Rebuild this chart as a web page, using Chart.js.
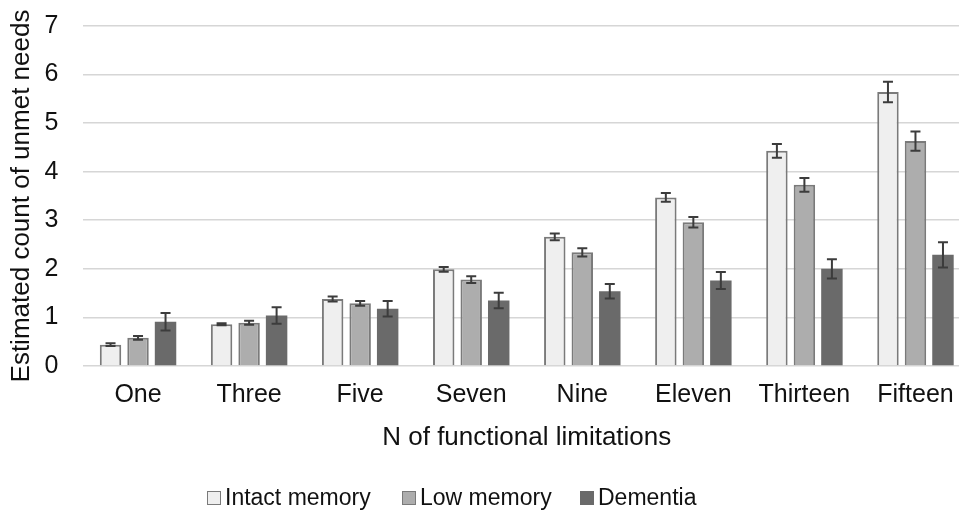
<!DOCTYPE html>
<html>
<head>
<meta charset="utf-8">
<script src="https://cdn.jsdelivr.net/npm/chart.js@4/dist/chart.umd.min.js"></script>
<style>
  html, body { margin: 0; padding: 0; background: #fff; width: 959px; height: 511px; overflow: hidden; position: relative; }
  #wrap { position: absolute; left: 0; top: 0; width: 975px; height: 511px; }
  .lg-box { position: absolute; top: 491px; width: 14px; height: 14px; box-sizing: border-box; }
  .lg-text { position: absolute; top: 484px; font-family: "Liberation Sans", Arial, sans-serif; font-size: 23px; line-height: normal; color: #111; white-space: nowrap; }
</style>
</head>
<body>
<div id="wrap"><canvas id="c" width="975" height="511"></canvas></div>
<div id="legend"></div>
<script>
const categories = ['One', 'Three', 'Five', 'Seven', 'Nine', 'Eleven', 'Thirteen', 'Fifteen'];
const seriesNames = ['Intact memory', 'Low memory', 'Dementia'];
const intactMemory = [0.44, 0.86, 1.38, 1.99, 2.66, 3.47, 4.43, 5.64];
const intactMemoryErr = [0.03, 0.02, 0.05, 0.05, 0.07, 0.09, 0.14, 0.21];
const lowMemory = [0.58, 0.89, 1.29, 1.78, 2.34, 2.96, 3.73, 4.63];
const lowMemoryErr = [0.04, 0.04, 0.05, 0.07, 0.085, 0.11, 0.14, 0.20];
const dementia = [0.91, 1.04, 1.18, 1.35, 1.54, 1.76, 2.00, 2.29];
const dementiaErr = [0.18, 0.17, 0.16, 0.16, 0.15, 0.175, 0.20, 0.26];
const yTicks = [0, 1, 2, 3, 4, 5, 6, 7];

const fills = ['#efefef', '#adadad', '#6a6a6a'];
const borders = ['#7a7a7a', '#7a7a7a', '#6a6a6a'];
const errs = [intactMemoryErr, lowMemoryErr, dementiaErr];
const FONT = '"Liberation Sans", Arial, sans-serif';

const errorBars = {
  id: 'errorBars',
  afterDatasetsDraw(chart) {
    const ctx = chart.ctx;
    const y = chart.scales.y;
    ctx.save();
    ctx.strokeStyle = '#3c3c3c';
    ctx.lineWidth = 2;
    chart.data.datasets.forEach((ds, i) => {
      const meta = chart.getDatasetMeta(i);
      meta.data.forEach((bar, j) => {
        const v = ds.data[j], e = errs[i][j];
        const yt = y.getPixelForValue(v + e), yb = y.getPixelForValue(v - e);
        const x = bar.x, hw = 5;
        ctx.beginPath();
        ctx.moveTo(x, yt); ctx.lineTo(x, yb);
        ctx.moveTo(x - hw, yt); ctx.lineTo(x + hw, yt);
        ctx.moveTo(x - hw, yb); ctx.lineTo(x + hw, yb);
        ctx.stroke();
      });
    });
    ctx.restore();
  }
};

new Chart(document.getElementById('c'), {
  type: 'bar',
  data: {
    labels: categories,
    datasets: [intactMemory, lowMemory, dementia].map((d, i) => ({
      label: seriesNames[i],
      data: d,
      backgroundColor: fills[i],
      borderColor: borders[i],
      borderWidth: i < 2 ? 2 : 0,
      categoryPercentage: 0.743,
      barPercentage: 0.78
    }))
  },
  options: {
    responsive: false,
    animation: false,
    devicePixelRatio: 1,
    layout: { padding: { top: 26, right: 4, bottom: 60, left: 0 } },
    plugins: { legend: { display: false }, tooltip: { enabled: false } },
    scales: {
      x: {
        grid: { display: false, drawTicks: false },
        border: { display: false },
        ticks: { padding: 17, color: '#111', font: { family: FONT, size: 25, lineHeight: 1 }, maxRotation: 0 },
        title: { display: true, text: 'N of functional limitations', color: '#111',
                 font: { family: FONT, size: 26, lineHeight: 1 }, padding: { top: 0, bottom: 0 } }
      },
      y: {
        min: 0, max: 7,
        afterBuildTicks: s => { s.ticks = yTicks.map(v => ({ value: v })); },
        afterFit: s => { s.width = 82.5; s.paddingTop = 0; s.paddingBottom = 0; },
        grid: { color: '#d6d6d6', lineWidth: 1.6, drawTicks: false },
        border: { display: false },
        ticks: { padding: 24, color: '#111', font: { family: FONT, size: 25 } },
        title: { display: true, text: 'Estimated count of unmet needs', color: '#111',
                 font: { family: FONT, size: 26 }, padding: { top: 6, bottom: 6 } }
      }
    }
  },
  plugins: [errorBars]
});

// legend (HTML, real text)
const lgLeft = [207, 402, 580];
const lg = document.getElementById('legend');
seriesNames.forEach((n, i) => {
  const b = document.createElement('div');
  b.className = 'lg-box';
  b.style.left = lgLeft[i] + 'px';
  b.style.background = fills[i];
  b.style.border = i < 2 ? '1.5px solid ' + borders[i] : 'none';
  lg.appendChild(b);
  const t = document.createElement('div');
  t.className = 'lg-text';
  t.style.left = (lgLeft[i] + 18) + 'px';
  t.textContent = n;
  lg.appendChild(t);
});
</script>
</body>
</html>
